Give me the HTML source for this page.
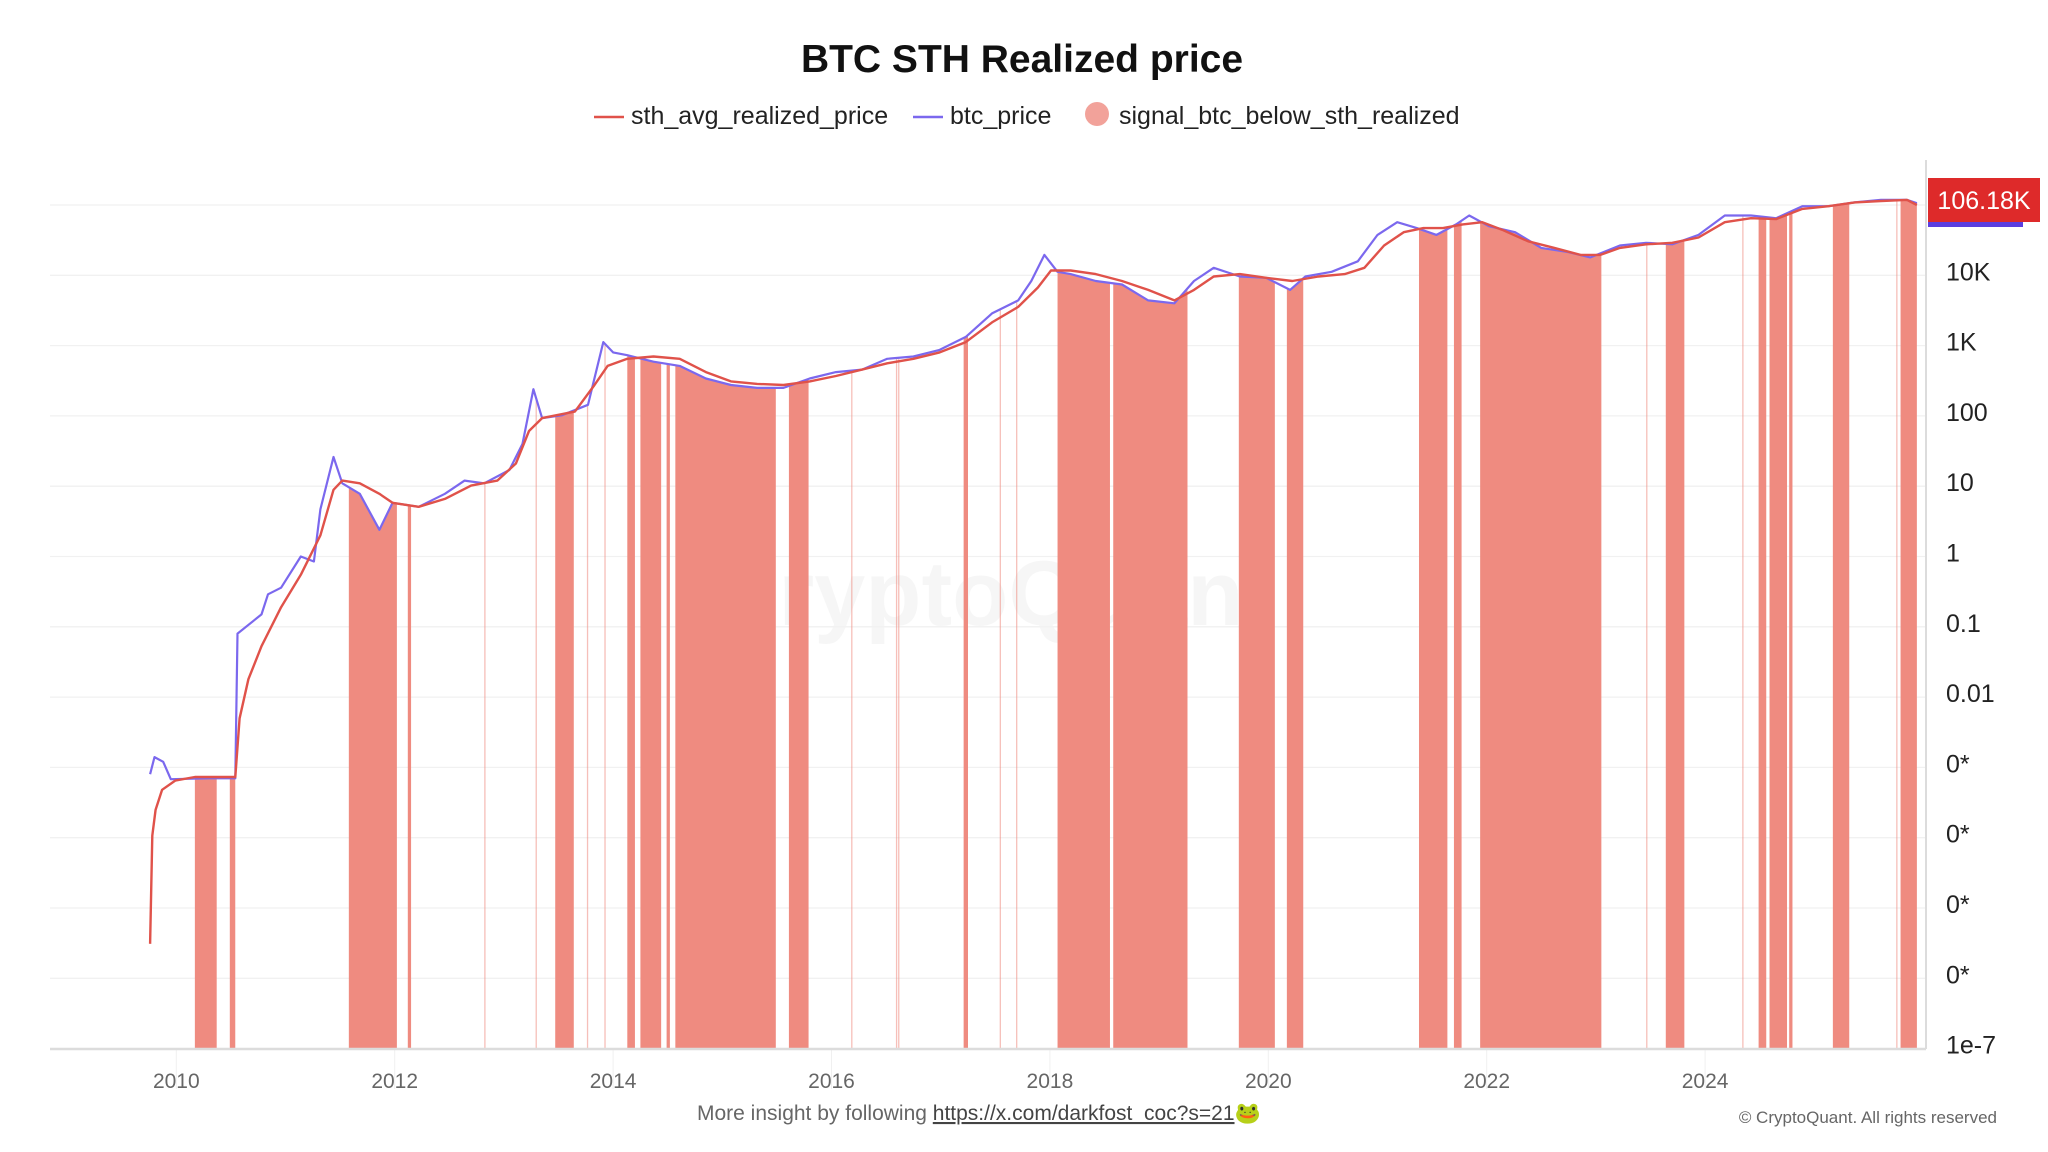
<!DOCTYPE html>
<html><head><meta charset="utf-8"><style>
html,body{margin:0;padding:0;background:#fff;}
svg{display:block;font-family:"Liberation Sans",sans-serif;}
</style></head><body>
<svg id="chart" width="2048" height="1152" viewBox="0 0 2048 1152" xmlns="http://www.w3.org/2000/svg">
<text x="1022" y="72" text-anchor="middle" font-size="39" font-weight="bold" fill="#111">BTC STH Realized price</text>
<g font-size="25" fill="#222">
 <g><line x1="594" y1="117" x2="624" y2="117" stroke="#e0524a" stroke-width="2.5"/><text x="631" y="124">sth_avg_realized_price</text></g>
 <g><line x1="913" y1="117" x2="943" y2="117" stroke="#7b68ee" stroke-width="2.5"/><text x="950" y="124">btc_price</text></g>
 <g><circle cx="1097" cy="114" r="12" fill="#f2a29a"/><text x="1119" y="124">signal_btc_below_sth_realized</text></g>
</g>
<text x="993" y="625" text-anchor="middle" font-size="92" font-weight="bold" fill="rgba(0,0,0,0.035)">CryptoQuant</text>
<g id="grid"></g>
<g id="bands"></g>
<g id="lines"></g>
<g id="axes"></g>
<g>
 <rect x="1928" y="178" width="112" height="44" fill="#de2a2a"/>
 <rect x="1928" y="222" width="95" height="5" fill="#5b3ee0"/>
 <text x="1984" y="209" text-anchor="middle" font-size="25" fill="#fff">106.18K</text>
</g>
<g font-size="21" fill="#666">
 <text x="697" y="1120">More insight by following <tspan text-decoration="underline" fill="#444">https://x.com/darkfost_coc?s=21</tspan>🐸</text>
 <text x="1997" y="1123" text-anchor="end" font-size="17">© CryptoQuant. All rights reserved</text>
</g>
</svg>
<script>
const priceDates=[2009.76,2009.80,2009.88,2009.95,2010.3,2010.54,2010.56,2010.78,2010.84,2010.96,2011.14,2011.26,2011.32,2011.44,2011.52,2011.68,2011.86,2011.98,2012.22,2012.46,2012.64,2012.82,2013.05,2013.17,2013.27,2013.35,2013.53,2013.77,2013.91,2014.0,2014.13,2014.37,2014.61,2014.85,2015.08,2015.32,2015.56,2015.80,2016.04,2016.28,2016.51,2016.75,2016.99,2017.23,2017.47,2017.71,2017.83,2017.95,2018.07,2018.19,2018.42,2018.66,2018.90,2019.14,2019.32,2019.50,2019.74,2019.98,2020.2,2020.34,2020.58,2020.82,2021.0,2021.18,2021.36,2021.54,2021.72,2021.84,2022.02,2022.26,2022.50,2022.74,2022.95,2023.22,2023.46,2023.70,2023.94,2024.18,2024.42,2024.65,2024.89,2025.13,2025.37,2025.61,2025.85,2025.94];
const btcPrice=[0.0008,0.0014,0.0012,0.00068,0.0007,0.0007,0.08,0.15,0.29,0.36,1.0,0.85,4.7,26,11,7.8,2.4,5.8,5.1,7.8,12,11,17,40,240,93,102,144,1120,800,730,590,515,340,275,250,250,340,420,455,650,700,870,1330,2870,4400,8300,19500,11200,10400,8300,7400,4400,4000,8300,12800,9600,9200,6200,9600,11200,15800,37500,57000,47000,37500,53000,71000,50000,41000,24500,21500,18000,26500,29000,27600,37500,71000,71000,65000,96000,96000,109000,118000,118000,106180];
const sthDates=[2009.76,2009.78,2009.81,2009.87,2009.99,2010.17,2010.54,2010.58,2010.66,2010.78,2010.96,2011.14,2011.32,2011.44,2011.52,2011.68,2011.86,2011.98,2012.22,2012.46,2012.70,2012.94,2013.11,2013.23,2013.35,2013.65,2013.83,2013.95,2014.13,2014.37,2014.61,2014.85,2015.08,2015.32,2015.56,2015.80,2016.04,2016.28,2016.51,2016.75,2016.99,2017.23,2017.47,2017.71,2017.89,2018.01,2018.19,2018.42,2018.66,2018.90,2019.14,2019.32,2019.50,2019.74,2019.98,2020.22,2020.46,2020.70,2020.88,2021.06,2021.24,2021.42,2021.60,2021.78,2021.96,2022.14,2022.38,2022.62,2022.86,2023.04,2023.22,2023.46,2023.70,2023.94,2024.18,2024.42,2024.65,2024.89,2025.13,2025.37,2025.61,2025.85,2025.94];
const sthPrice=[0.0000031,0.000107,0.00025,0.00048,0.00065,0.00073,0.00073,0.005,0.018,0.053,0.19,0.55,2.0,8.9,12,11,7.8,5.8,5.1,6.6,10.2,12,21,61,93,115,275,515,650,700,650,420,310,285,275,310,370,455,560,650,800,1120,2140,3550,6700,11700,11700,10400,8300,6200,4400,6200,9600,10400,9200,8300,9600,10400,12800,26500,41000,47000,47000,53000,57000,44500,30500,24500,19500,19500,24500,27600,29000,34500,57000,65000,63000,88000,96000,109000,114000,118000,100000];
const signalStart=[2010.17,2010.49,2011.58,2012.12,2012.82,2013.29,2013.47,2013.76,2013.92,2014.13,2014.25,2014.49,2014.57,2015.61,2016.18,2016.59,2016.61,2017.21,2017.54,2017.69,2018.07,2018.58,2019.73,2020.17,2021.38,2021.70,2021.94,2023.46,2023.64,2024.34,2024.49,2024.59,2024.77,2025.17,2025.75,2025.79];
const signalEnd=[2010.37,2010.54,2012.02,2012.15,2012.83,2013.30,2013.64,2013.77,2013.93,2014.20,2014.44,2014.52,2015.49,2015.79,2016.19,2016.60,2016.62,2017.25,2017.55,2017.70,2018.55,2019.26,2020.06,2020.32,2021.64,2021.77,2023.05,2023.47,2023.81,2024.35,2024.56,2024.75,2024.80,2025.32,2025.76,2025.94];
const yTickValues=[1e4,1e3,100,10,1,0.1,0.01,1e-3,1e-4,1e-5,1e-6,1e-7];
const yTickLabels=["10K","1K","100","10","1","0.1","0.01","0*","0*","0*","0*","1e-7"];
const xTickYears=[2010,2012,2014,2016,2018,2020,2022,2024];

const NS="http://www.w3.org/2000/svg";
const L=50,R=1926,B=1049;
const xs=t=>176.3+(t-2010)*109.2;
const ys=v=>205+(5-Math.log10(v))*70.3;
function mk(tag,attrs,parent){const e=document.createElementNS(NS,tag);for(const k in attrs)e.setAttribute(k,attrs[k]);parent.appendChild(e);return e;}
const grid=document.getElementById('grid'),bands=document.getElementById('bands'),lines=document.getElementById('lines'),axes=document.getElementById('axes');
[1e5].concat(yTickValues).forEach(v=>{
 const g=mk('line',{x1:L,x2:R,y1:ys(v),y2:ys(v),stroke:'#f1f1f1','stroke-width':1.3},grid);
 
 
});
yTickValues.forEach((v,i)=>{
 const t=mk('text',{x:1946,y:ys(v)+5,'font-size':25,fill:'#222'},axes);
 t.textContent=yTickLabels[i];
 
 
});
xTickYears.forEach(yr=>{
 const tk=mk('line',{x1:xs(yr),x2:xs(yr),y1:B,y2:B+40,stroke:'#f0f0f0','stroke-width':1},axes);
 
 
 const t=mk('text',{x:xs(yr),y:1088,'font-size':21,fill:'#666','text-anchor':'middle'},axes);
 t.textContent=yr;
 
 
});
const xa=mk('line',{x1:L,x2:R,y1:B,y2:B,stroke:'#dcdcdc','stroke-width':2.5},axes);


const ya=mk('line',{x1:R,x2:R,y1:160,y2:B,stroke:'#dcdcdc','stroke-width':2},axes);


const defs=mk('defs',{},document.getElementById('chart'));
const cp=mk('clipPath',{id:'under'},defs);
let d='M'+xs(priceDates[0])+','+B;
priceDates.forEach((t,i)=>{d+=' L'+xs(t).toFixed(1)+','+ys(btcPrice[i]).toFixed(1);});
d+=' L'+xs(priceDates[priceDates.length-1])+','+B+' Z';
mk('path',{d:d},cp);
bands.setAttribute('clip-path','url(#under)');
signalStart.forEach((s,i)=>{
 const x0=xs(s),x1=xs(signalEnd[i]);
 const w=Math.max(x1-x0,1.3);
 const r=mk('rect',{x:x0,y:180,width:w,height:B-180,fill:'#ef8b80','fill-opacity':w<3?0.55:1},bands);
 
 
});
function path(dates,vals,color,w,name){
 let p='';dates.forEach((t,i)=>{p+=(i?' L':'M')+xs(t).toFixed(1)+','+ys(vals[i]).toFixed(1);});
 const e=mk('path',{d:p,fill:'none',stroke:color,'stroke-width':w,'stroke-linejoin':'round'},lines);
 
 
}
path(priceDates,btcPrice,'#7b68ee',2.2,'btc-price-line');
path(sthDates,sthPrice,'#e0524a',2.4,'sth-realized-price-line');
</script>
</body></html>
